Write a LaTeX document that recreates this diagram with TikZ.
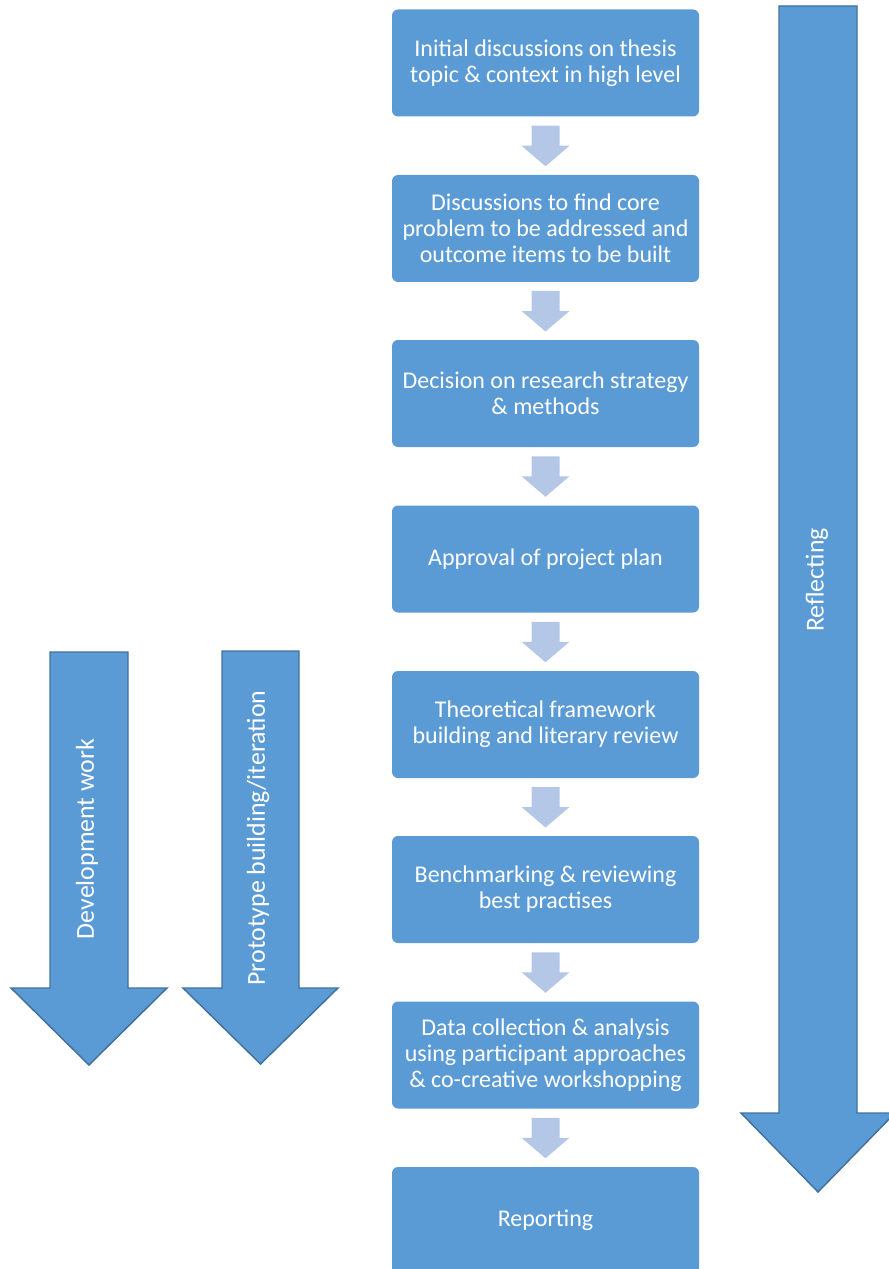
\documentclass[tikz,border=0pt]{standalone}
\usepackage{fontspec}
\usetikzlibrary{calc}
\setmainfont{Carlito}
\definecolor{boxblue}{HTML}{5B9BD5}
\definecolor{edgeblue}{HTML}{41719C}
\definecolor{lightblue}{HTML}{B4C7E7}
\tikzset{
  stepbox/.style={fill=boxblue, draw=none, rounded corners=4.5pt, minimum width=230.25pt,
    minimum height=80.25pt, text=white, align=center, font=\fontsize{18}{19.5}\selectfont},
  bigarrow/.style={fill=boxblue, draw=edgeblue, line width=1.1pt, line join=miter},
  smallarrow/.style={fill=lightblue, draw=none},
  sidetext/.style={text=white, rotate=90, font=\fontsize{19.4}{22}\selectfont}
}
\begin{document}
\begin{tikzpicture}[x=0.75pt,y=-0.75pt]
\useasboundingbox (0,0) rectangle (888,1269);
% big arrows
\draw[bigarrow] (779,6) -- (857,6) -- (857,1113) -- (895,1113) -- (818,1192) -- (741,1113) -- (779,1113) -- cycle;
\node[sidetext] (refl) at (817,580) {Reflecting};
\draw[bigarrow] (50,652) -- (128,652) -- (128,988) -- (167,988) -- (89,1065) -- (11,988) -- (50,988) -- cycle;
\node[sidetext] (dev) at (87,839) {Development work};
\draw[bigarrow] (222,651) -- (299,651) -- (299,988) -- (338,988) -- (260.5,1064) -- (183,988) -- (222,988) -- cycle;
\node[sidetext] (proto) at (258,838) {Prototype building/iteration};
% boxes
\node[stepbox] (b1) at (545.5,63) {Initial discussions on thesis\\topic \& context in high level};
\node[stepbox] (b2) at (545.5,228.5) {Discussions to find core\\problem to be addressed and\\outcome items to be built};
\node[stepbox] (b3) at (545.5,393.5) {Decision on research strategy\\\& methods};
\node[stepbox] (b4) at (545.5,559) {Approval of project plan};
\node[stepbox] (b5) at (545.5,724.5) {Theoretical framework\\building and literary review};
\node[stepbox] (b6) at (545.5,889.5) {Benchmarking \& reviewing\\best practises};
\node[stepbox] (b7) at (545.5,1055) {Data collection \& analysis\\using participant approaches\\\& co-creative workshopping};
\node[stepbox] (b8) at (545.5,1220.5) {Reporting};
% small arrows
\foreach \a/\b in {b1/b2,b2/b3,b3/b4,b4/b5,b5/b6,b6/b7,b7/b8}{
  \coordinate (m) at ($(\a.south)!0.5!(\b.north)$);
  \fill[smallarrow] ([shift={(-14,-20)}]m) -- ([shift={(14,-20)}]m) -- ([shift={(14,0)}]m)
    -- ([shift={(24,0)}]m) -- ([shift={(0,20.5)}]m) -- ([shift={(-24,0)}]m)
    -- ([shift={(-14,0)}]m) -- cycle;
}
\end{tikzpicture}
\end{document}
